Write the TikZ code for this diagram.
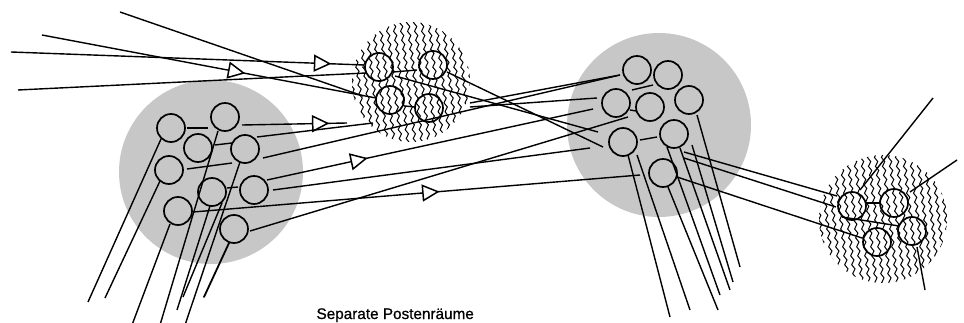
\documentclass[tikz,border=0pt]{standalone}
\usepackage{fontspec}
\setmainfont{Liberation Sans}
\newfontfamily\capfont{Liberation Sans}[FakeBold=0.9]
\usetikzlibrary{decorations.pathmorphing,decorations.markings}
\begin{document}
\begin{tikzpicture}[x=1pt,y=-1pt,
  wire/.style={line width=1.4pt},
  link/.style={line width=1.4pt},
  cell/.style={circle,draw,line width=1.7pt,minimum size=28pt,inner sep=0pt},
  dotfield/.style={fill=black!22},
  wavy/.style={line width=1pt,decorate,decoration={snake,amplitude=1.4pt,segment length=9pt}},
  tri/.style={postaction={decorate,decoration={markings,
      mark=at position #1 with {\draw[line width=1.5pt,fill=white]
        (-7pt,-7.5pt)--(8pt,0pt)--(-7pt,7.5pt)--cycle;}}}}]
\useasboundingbox (0,0) rectangle (964,323);

% dotted fields
\fill[dotfield] (211,172) circle [radius=92];
\fill[dotfield] (659,125) circle [radius=92];

% wavy fields
\begin{scope}
  \clip (411,82) ellipse [x radius=59, y radius=60];
  \foreach \x in {330,337,...,490}
    \draw[wavy] (\x,15) -- (\x+16,150);
\end{scope}
\begin{scope}
  \clip (883,219) ellipse [x radius=64, y radius=64];
  \foreach \x in {798,805,...,962}
    \draw[wavy] (\x,150) -- (\x+16,290);
\end{scope}

% inputs from the left
\draw[wire] (120,12) -- (363,96);
\draw[wire,tri=0.58] (42,35) -- (376,98);
\draw[wire,tri=0.88] (11,52) -- (364,65);
\draw[wire] (18,90) -- (366,73);

% left field to wavy field
\draw[wire,tri=0.74] (242,125) -- (347,123);
\draw[wire] (257,137) -- (373,123);

% left field to right dotted field
\draw[wire] (263,158) -- (620,75);
\draw[wire,tri=0.28] (267,180) -- (593,109);
\draw[wire] (273,190) -- (590,148);
\draw[wire] (250,231) -- (628,117);
\draw[wire,tri=0.53] (193,212) -- (640,175);

% wavy field to right dotted field
\draw[wire] (447,72) -- (603,147);
\draw[wire] (395,76) -- (598,132);
\draw[wire] (470,103) -- (620,75);
\draw[wire] (470,107) -- (597,98);

% right dotted field to small wavy field
\draw[wire] (684,152) -- (837,196);
\draw[wire] (684,158) -- (836,207);
\draw[wire] (677,177) -- (862,238);

% outputs of the small wavy field
\draw[wire] (860,190) -- (933,98);
\draw[wire] (910,192) -- (957,160);
\draw[wire] (917,247) -- (925,290);

% outputs of the right dotted field
\draw[wire] (628,155) -- (670,317);
\draw[wire] (637,155) -- (690,310);
\draw[wire] (668,187) -- (718,310);
\draw[wire] (667,147) -- (720,295);
\draw[wire] (680,148) -- (730,290);
\draw[wire] (692,145) -- (733,282);
\draw[wire] (697,115) -- (740,267);

% outputs of the left dotted field
\draw[wire] (161,139) -- (88,302);
\draw[wire] (160,181) -- (105,298);
\draw[wire] (170,224) -- (132,325);
\draw[wire] (218,131) -- (160,325);
\draw[wire] (240,162) -- (185,325);
\draw[wire] (210,206) -- (177,310);
\draw[wire] (222,203) -- (183,297);
\draw[wire,line width=1.8pt,line cap=round] (229,243) -- (204,297);

% short links between cells
\draw[link] (187,128) -- (208,128);
\draw[link] (215,145) -- (232,143);
\draw[link] (187,169) -- (232,163);
\draw[link] (227,188) -- (238,187);
\draw[link] (393,72) -- (417,70);
\draw[link] (405,106) -- (415,107);
\draw[link] (632,90) -- (653,85);
\draw[link] (630,110) -- (636,111);
\draw[link] (640,140) -- (657,137);
\draw[link] (866,203) -- (880,203);
\draw[link] (842,217) -- (899,226);

% cells
\foreach \n/\p in {a1/{171,128},a2/{225,117},a3/{198,148},a4/{245,149},a5/{169,170},
                   a6/{212,192},a7/{254,190},a8/{178,211},a9/{234,229},
                   b1/{379,67},b2/{433,65},b3/{390,100},b4/{429,108},
                   c1/{637,70},c2/{668,75},c3/{616,103},c4/{650,107},c5/{689,100},
                   c6/{623,142},c7/{674,134},c8/{663,173},
                   d1/{852,206},d2/{894,203},d3/{877,242},d4/{912,231}}
  \node[cell] (\n) at (\p) {};

\node[anchor=base west,font=\capfont\fontsize{15.3pt}{16pt}\selectfont] (cap) at (313,319) {Separate Postenräume};
\end{tikzpicture}
\end{document}
